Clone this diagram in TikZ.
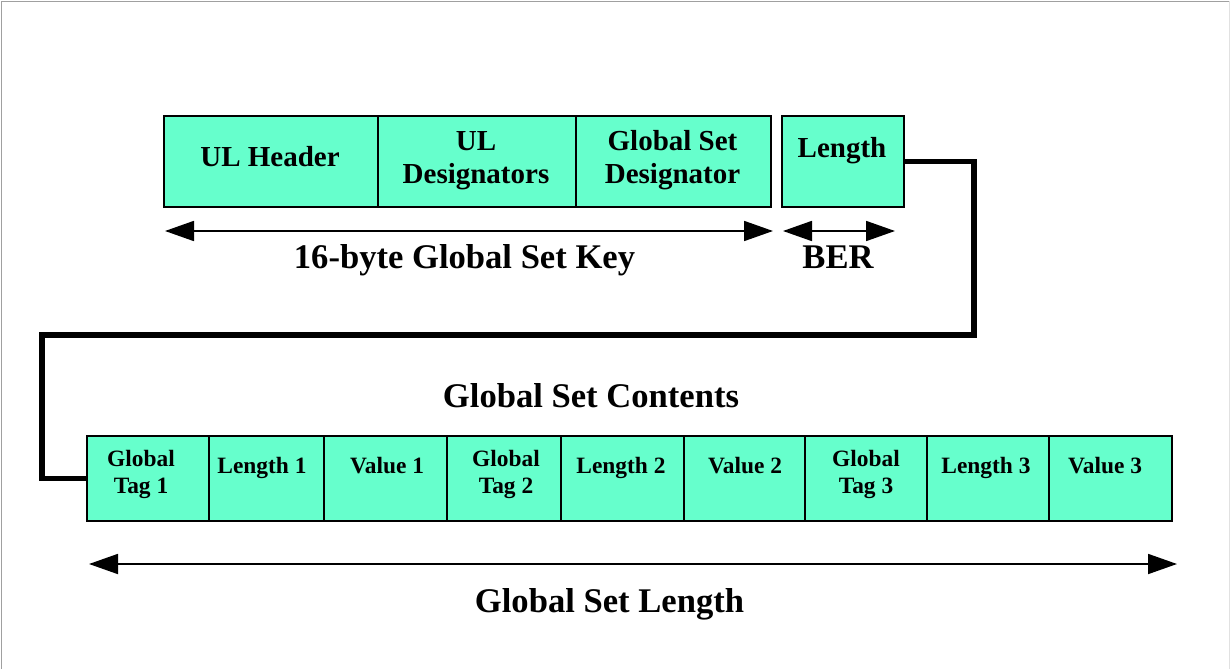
\documentclass[tikz,border=0pt]{standalone}
\usepackage{fontspec}
\setmainfont{Liberation Serif}
\usetikzlibrary{arrows.meta}
\definecolor{cellfill}{RGB}{102,255,204}
\definecolor{framegray}{RGB}{160,160,160}
\definecolor{framelight}{RGB}{225,225,225}
\begin{document}
\begin{tikzpicture}[x=1pt,y=-1pt,
  cell/.style={draw=black, line width=2pt, fill=cellfill, inner sep=0pt, anchor=north west},
  toptext/.style={font=\bfseries\fontsize{29}{33}\selectfont, align=center, anchor=base, inner sep=0pt},
  bottext/.style={font=\bfseries\fontsize{23.4}{27}\selectfont, align=center, anchor=base, inner sep=0pt},
  caption/.style={font=\bfseries\fontsize{34.6}{40}\selectfont, anchor=base, inner sep=0pt},
  span/.style={line width=1.8pt, {Triangle[length=29pt,width=20pt]}-{Triangle[length=29pt,width=20pt]}},
  link/.style={line width=5.5pt, line join=miter}
]
\useasboundingbox (0,0) rectangle (1231,669);

% page frame
\draw[framegray, line width=1.5pt] (1.5,669) -- (1.5,1.5) -- (1229.5,1.5);
\draw[framelight, line width=1pt] (1229.5,1.5) -- (1229.5,669);

% key and length fields
\node[cell, minimum width=214pt, minimum height=91pt] (hdr) at (163,115) {};
\node[cell, minimum width=198pt, minimum height=91pt] (uld) at (377,115) {};
\node[cell, minimum width=195pt, minimum height=91pt] (gsd) at (575,115) {};
\node[cell, minimum width=122pt, minimum height=91pt] (len) at (781,115) {};

% (base of a two-line label is the baseline of its last line)
\node[toptext] (hdrt) at (270,166) {UL Header};
\node[toptext] (uldt) at (476,183) {UL\\Designators};
\node[toptext] (gsdt) at (672.5,183) {Global Set\\Designator};
\node[toptext] (lent) at (842,157) {Length};

% dimension arrows under the key
\coordinate (keyL) at (165,231);
\coordinate (keyR) at (773,231);
\coordinate (berL) at (783,231);
\coordinate (berR) at (895,231);
\draw[span] (keyL) -- (keyR);
\draw[span] (berL) -- (berR);
\node[caption] (keycap) at (464.5,268) {16-byte Global Set Key};
\node[caption] (bercap) at (838,268) {BER};

% contents fields
\node[cell, minimum width=122pt, minimum height=85pt] (c1) at (86,435) {};
\node[cell, minimum width=115pt, minimum height=85pt] (c2) at (208,435) {};
\node[cell, minimum width=123pt, minimum height=85pt] (c3) at (323,435) {};
\node[cell, minimum width=114pt, minimum height=85pt] (c4) at (446,435) {};
\node[cell, minimum width=123pt, minimum height=85pt] (c5) at (560,435) {};
\node[cell, minimum width=121pt, minimum height=85pt] (c6) at (683,435) {};
\node[cell, minimum width=122pt, minimum height=85pt] (c7) at (804,435) {};
\node[cell, minimum width=122pt, minimum height=85pt] (c8) at (926,435) {};
\node[cell, minimum width=123pt, minimum height=85pt] (c9) at (1048,435) {};

\node[bottext] (c1t) at (141,493) {Global\\Tag 1};
\node[bottext] (c2t) at (262,473) {Length 1};
\node[bottext] (c3t) at (387,473) {Value 1};
\node[bottext] (c4t) at (506,493) {Global\\Tag 2};
\node[bottext] (c5t) at (621,473) {Length 2};
\node[bottext] (c6t) at (745,473) {Value 2};
\node[bottext] (c7t) at (866,493) {Global\\Tag 3};
\node[bottext] (c8t) at (986,473) {Length 3};
\node[bottext] (c9t) at (1105,473) {Value 3};

\node[caption] (gsc) at (591,407) {Global Set Contents};

% length field points to the contents
\draw[link] (len.east) -| (974,335) -| ([xshift=-44pt]c1.west) -- (c1.west);

% overall length arrow
\coordinate (allL) at (89,564);
\coordinate (allR) at (1177,564);
\draw[span] (allL) -- (allR);
\node[caption] (gsl) at (609.5,612) {Global Set Length};
\end{tikzpicture}
\end{document}
